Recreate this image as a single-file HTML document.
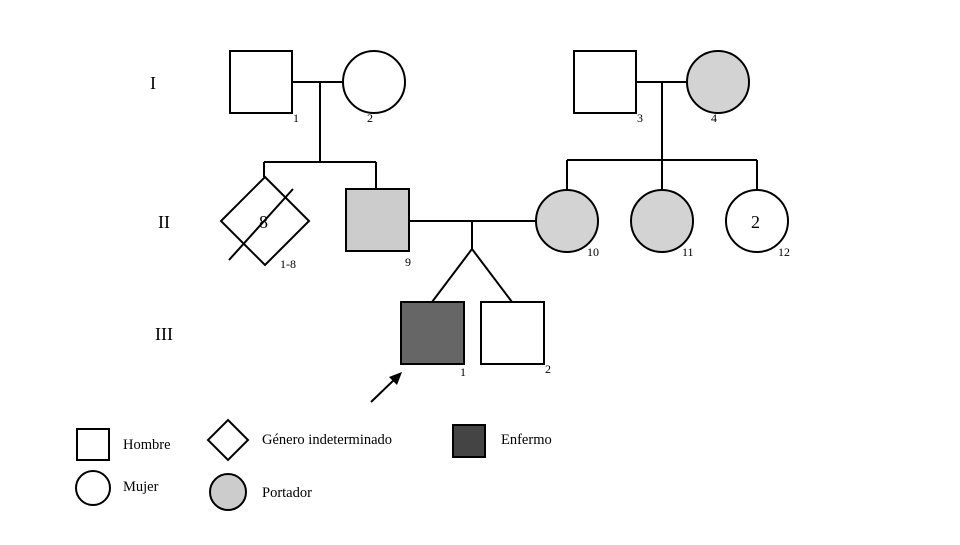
<!DOCTYPE html>
<html><head><meta charset="utf-8"><style>
html,body{margin:0;padding:0;background:#fff;}
svg text{font-family:"Liberation Serif",serif;fill:#000;}
</style></head><body>
<svg width="960" height="540" viewBox="0 0 960 540" xmlns="http://www.w3.org/2000/svg">
<g stroke="#000" stroke-width="2" fill="none">
<rect x="230" y="51" width="62" height="62" fill="#fff"/>
<circle cx="374" cy="82" r="31" fill="#fff"/>
<line x1="292" y1="82" x2="343" y2="82"/>
<line x1="320" y1="82" x2="320" y2="163"/>
<line x1="264" y1="162" x2="376" y2="162"/>
<line x1="264" y1="162" x2="264" y2="177"/>
<line x1="376" y1="162" x2="376" y2="189"/>
<rect x="574" y="51" width="62" height="62" fill="#fff"/>
<circle cx="718" cy="82" r="31" fill="#d3d3d3"/>
<line x1="636" y1="82" x2="687" y2="82"/>
<line x1="662" y1="82" x2="662" y2="190"/>
<line x1="567" y1="160" x2="757" y2="160"/>
<line x1="567" y1="160" x2="567" y2="190"/>
<line x1="757" y1="160" x2="757" y2="190"/>
<polygon points="265,177 309,221 265,265 221,221" fill="#fff"/>
<line x1="229" y1="260" x2="293" y2="189"/>
<rect x="346" y="189" width="63" height="62" fill="#ccc"/>
<circle cx="567" cy="221" r="31" fill="#d3d3d3"/>
<circle cx="662" cy="221" r="31" fill="#d3d3d3"/>
<circle cx="757" cy="221" r="31" fill="#fff"/>
<line x1="409" y1="221" x2="536" y2="221"/>
<line x1="472" y1="221" x2="472" y2="249"/>
<line x1="472" y1="249" x2="432" y2="302"/>
<line x1="472" y1="249" x2="512" y2="302"/>
<rect x="401" y="302" width="63" height="62" fill="#666"/>
<rect x="481" y="302" width="63" height="62" fill="#fff"/>
<line x1="371" y1="402" x2="396" y2="378"/>
<rect x="77" y="429" width="32" height="31" fill="#fff"/>
<circle cx="93" cy="488" r="17" fill="#fff"/>
<polygon points="228,420 248,440 228,460 208,440" fill="#fff"/>
<circle cx="228" cy="492" r="18" fill="#ccc"/>
<rect x="453" y="425" width="32" height="32" fill="#444"/>
</g>
<polygon points="402,372 389,377 397,385" fill="#000"/>
<g font-size="18">
<text x="150" y="89">I</text>
<text x="158" y="228">II</text>
<text x="155" y="340">III</text>
</g>
<g font-size="12">
<text x="293" y="122">1</text>
<text x="367" y="122">2</text>
<text x="637" y="122">3</text>
<text x="711" y="122">4</text>
<text x="280" y="268">1-8</text>
<text x="405" y="266">9</text>
<text x="587" y="256">10</text>
<text x="682" y="256">11</text>
<text x="778" y="256">12</text>
<text x="460" y="376">1</text>
<text x="545" y="373">2</text>
</g>
<text x="259" y="228" font-size="18">8</text>
<text x="751" y="228" font-size="18">2</text>
<g font-size="14.5">
<text x="123" y="449">Hombre</text>
<text x="123" y="491">Mujer</text>
<text x="262" y="444">Género indeterminado</text>
<text x="262" y="497">Portador</text>
<text x="501" y="444">Enfermo</text>
</g>
</svg>
</body></html>
